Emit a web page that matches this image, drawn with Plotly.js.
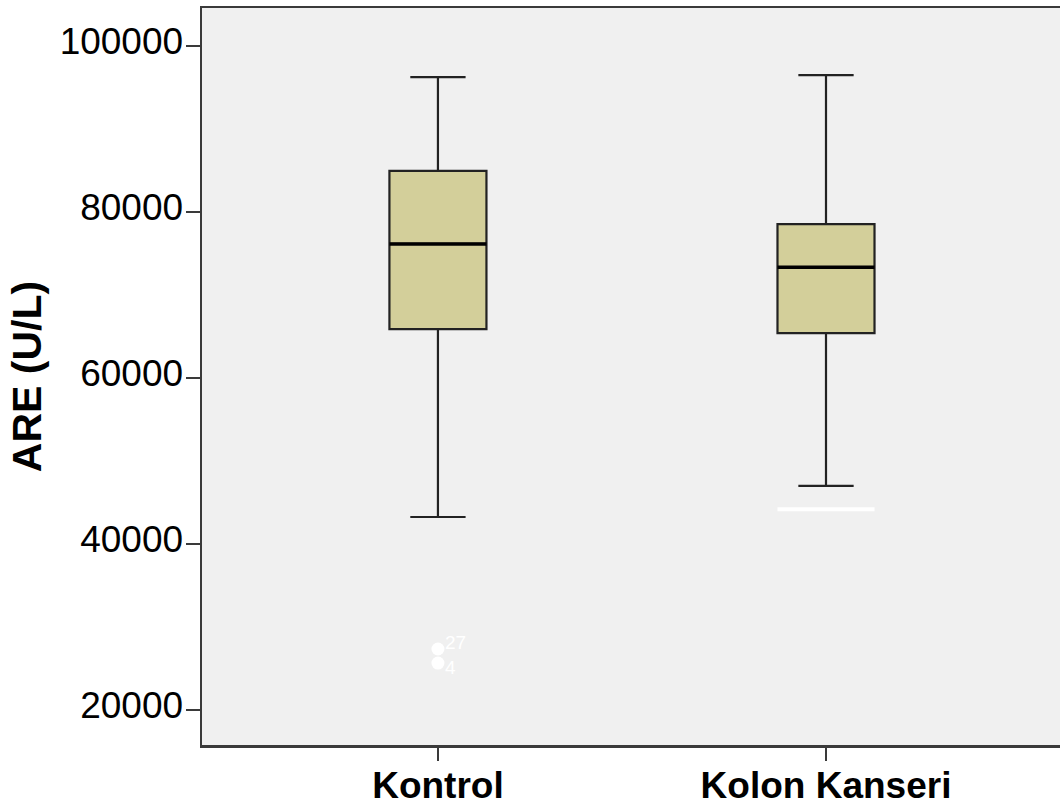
<!DOCTYPE html>
<html>
<head>
<meta charset="utf-8">
<script src="https://cdn.plot.ly/plotly-3.0.1.min.js"></script>
<style>html,body{margin:0;padding:0;background:#fff;}</style>
</head>
<body>
<div id="chart" style="width:1060px;height:810px;"></div>
<script>
// ---- data ----
var categories = ["Kontrol", "Kolon Kanseri"];
var upperWhisker = [96250, 96500];
var q3Values = [84950, 78550];
var medianValues = [76150, 73350];
var q1Values = [65900, 65400];
var lowerWhisker = [43250, 47000];
var outlierGroup = [0, 0];
var outlierValues = [27350, 25650];
var outlierLabels = ["27", "4"];
var extremeLineGroup = [1];
var extremeLineValues = [44200];
var yTickValues = [20000, 40000, 60000, 80000, 100000];
var yTickLabels = ["20000", "40000", "60000", "80000", "100000"];

// ---- style ----
var boxWidth = 0.25;
var half = boxWidth / 2;
var fontFam = "Arial, 'Liberation Sans', sans-serif";
var axisColor = "#3a3a3a";

var traces = [];
categories.forEach(function (c, i) {
  traces.push({
    type: "box",
    x: [i],
    q1: [q1Values[i]],
    median: [medianValues[i]],
    q3: [q3Values[i]],
    lowerfence: [lowerWhisker[i]],
    upperfence: [upperWhisker[i]],
    width: boxWidth,
    whiskerwidth: 0.57,
    fillcolor: "#d3cf9a",
    line: { color: "#222222", width: 2.2 },
    boxpoints: false,
    hoverinfo: "skip",
    showlegend: false
  });
  traces.push({
    type: "scatter", mode: "lines",
    x: [i - half, i + half],
    y: [medianValues[i], medianValues[i]],
    line: { color: "#000", width: 3.5 },
    hoverinfo: "skip", showlegend: false
  });
});

extremeLineGroup.forEach(function (g, k) {
  traces.push({
    type: "scatter", mode: "lines",
    x: [g - half, g + half],
    y: [extremeLineValues[k], extremeLineValues[k]],
    line: { color: "#ffffff", width: 4 },
    hoverinfo: "skip", showlegend: false
  });
});

traces.push({
  type: "scatter", mode: "markers",
  x: outlierGroup, y: outlierValues,
  marker: { color: "#ffffff", size: 13, line: { width: 0 } },
  hoverinfo: "skip", showlegend: false
});

var annotations = outlierValues.map(function (v, k) {
  return {
    x: outlierGroup[k], y: v, xref: "x", yref: "y",
    text: outlierLabels[k], showarrow: false,
    xanchor: "left", yanchor: "middle",
    xshift: 5, yshift: k === 0 ? 6 : -4,
    font: { family: fontFam, size: 19, color: "#ffffff" }
  };
});

var layout = {
  width: 1060, height: 810,
  margin: { l: 202, r: 0, t: 8, b: 65 },
  paper_bgcolor: "#ffffff",
  plot_bgcolor: "#f0f0f0",
  showlegend: false,
  annotations: annotations,
  xaxis: {
    range: [-0.608, 1.603],
    tickmode: "array",
    tickvals: categories.map(function (c, i) { return i; }),
    ticktext: categories.map(function (c) { return "<b>" + c + "</b>"; }),
    tickfont: { family: fontFam, size: 37, color: "#000" },
    ticks: "outside", ticklen: 13, tickwidth: 2, tickcolor: axisColor,
    showline: true, linecolor: axisColor, linewidth: 2.5, mirror: true,
    showgrid: false, zeroline: false,
    ticklabelstandoff: -7
  },
  yaxis: {
    range: [15783, 104578],
    tickmode: "array",
    tickvals: yTickValues,
    ticktext: yTickLabels,
    tickfont: { family: fontFam, size: 37, color: "#000" },
    ticks: "outside", ticklen: 14, tickwidth: 2, tickcolor: axisColor,
    showline: true, linecolor: axisColor, linewidth: 2.5, mirror: true,
    showgrid: false, zeroline: false,
    ticklabelstandoff: -5,
    ticklabelshift: -5,
    title: { text: "<b>ARE (U/L)</b>", font: { family: fontFam, size: 41, color: "#000" }, standoff: 6 }
  }
};

Plotly.newPlot("chart", traces, layout, { displayModeBar: false, staticPlot: true });
</script>
</body>
</html>
